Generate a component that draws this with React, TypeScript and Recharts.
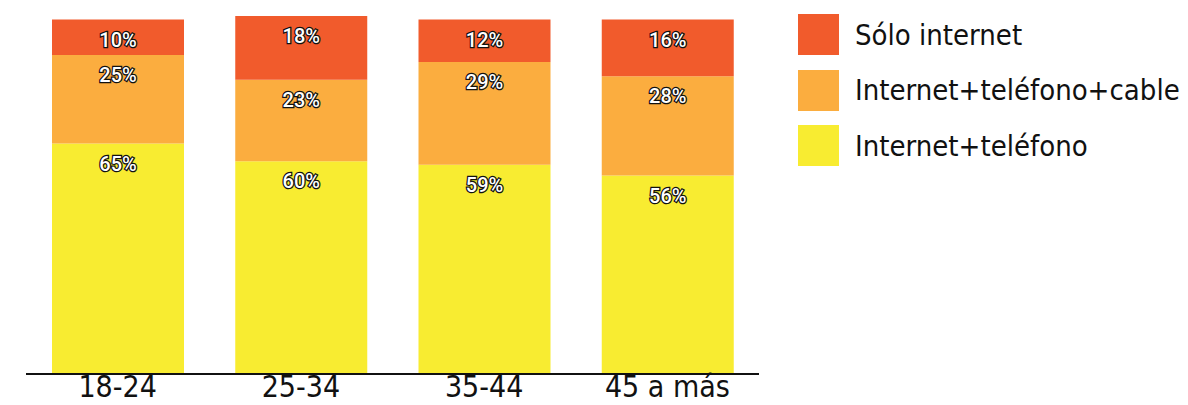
import { BarChart, Bar, XAxis, YAxis, LabelList } from "recharts";

const categories = ["18-24", "25-34", "35-44", "45 a más"];
const telefono = [65, 60, 59, 56];
const telefonoCable = [25, 23, 29, 28];
const soloInternet = [10, 18, 12, 16];

const SERIES = [
  { key: "telefono", name: "Internet+teléfono", color: "#F8EC31" },
  { key: "telefonoCable", name: "Internet+teléfono+cable", color: "#FBAD3F" },
  { key: "soloInternet", name: "Sólo internet", color: "#F15B2C" },
];

const data = categories.map((name, i) => ({
  name,
  telefono: telefono[i],
  telefonoCable: telefonoCable[i],
  soloInternet: soloInternet[i],
}));

const FONT = "'DejaVu Sans Condensed', 'Liberation Sans', sans-serif";

const renderValue = (props: any) => {
  const { x, y, width, value } = props;
  return (
    <text
      x={x + width / 2}
      y={y + 20}
      textAnchor="middle"
      dominantBaseline="central"
      fill="#fff"
      stroke="#111"
      strokeWidth={2.5}
      paintOrder="stroke"
      fontFamily="Roboto, sans-serif"
      fontWeight={500}
      fontSize={20}
    >
      {value}%
    </text>
  );
};

// legend drawn beside the chart, top item first
const ChartLegend = () => (
  <div style={{ position: "absolute", left: 798, top: 7, width: 390 }}>
    {[...SERIES].reverse().map((s) => (
      <div
        key={s.key}
        style={{ display: "flex", alignItems: "center", height: 55.5 }}
      >
        <div style={{ width: 41, height: 41, background: s.color }} />
        <span
          style={{
            marginLeft: 16,
            fontFamily: FONT,
            fontSize: 29,
            color: "#111",
            whiteSpace: "nowrap",
          }}
        >
          {s.name}
        </span>
      </div>
    ))}
  </div>
);

export default function App() {
  return (
    <div style={{ position: "absolute", left: 0, top: 0, width: 1188, height: 405 }}>
      <BarChart
        width={1188}
        height={405}
        data={data}
        margin={{ top: 16, right: 429, left: 26, bottom: 0 }}
        barSize={132}
      >
        <XAxis
          dataKey="name"
          height={31}
          tickLine={false}
          tickSize={0}
          tickMargin={2}
          axisLine={{ stroke: "#111", strokeWidth: 2 }}
          tick={{ fill: "#111", fontSize: 30, fontFamily: FONT }}
        />
        <YAxis hide domain={[0, 101]} allowDataOverflow />
        {SERIES.map((s) => (
          <Bar
            key={s.key}
            dataKey={s.key}
            name={s.name}
            stackId="a"
            fill={s.color}
            isAnimationActive={false}
          >
            <LabelList dataKey={s.key} content={renderValue} />
          </Bar>
        ))}
      </BarChart>
      <ChartLegend />
    </div>
  );
}
